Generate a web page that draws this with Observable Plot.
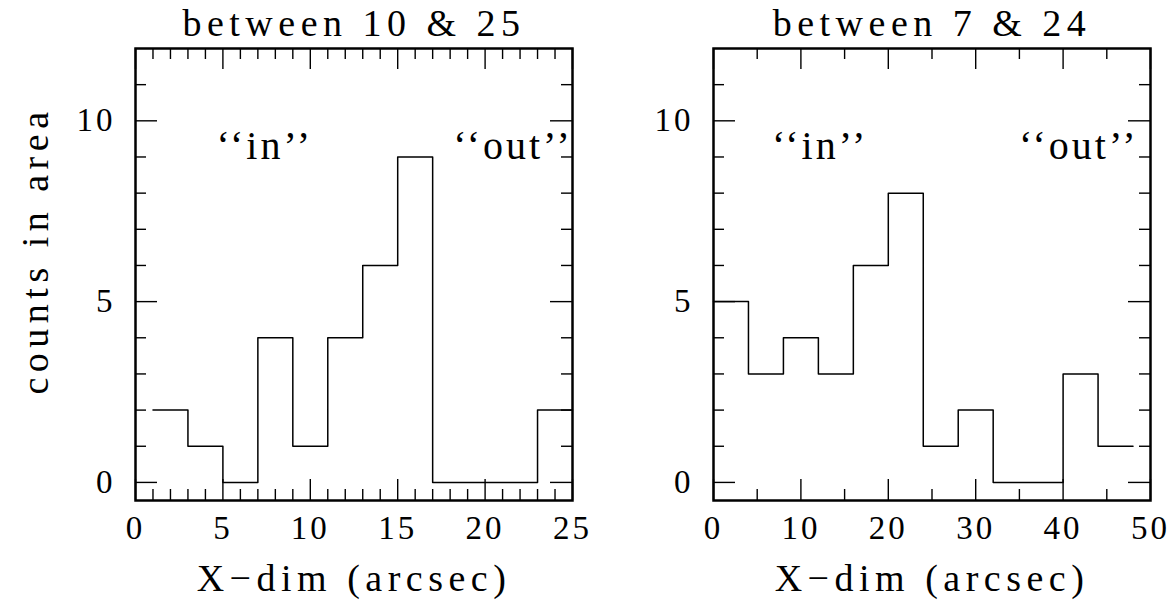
<!DOCTYPE html>
<html>
<head>
<meta charset="utf-8">
<script src="https://cdn.jsdelivr.net/npm/d3@7"></script>
<script src="https://cdn.jsdelivr.net/npm/@observablehq/plot@0.6"></script>
<style>
  html, body { margin: 0; padding: 0; background: #fff; }
  #wrap { position: relative; width: 1173px; height: 604px; overflow: hidden; }
  #wrap svg { position: absolute; top: 0; background: transparent; }
</style>
</head>
<body>
<div id="wrap"></div>
<script>
// ---- data ----
const leftTitle = "between 10 & 25";
const rightTitle = "between 7 & 24";
const xLabel = "X\u2212dim (arcsec)";
const yLabel = "counts in area";

// bin edges (start of each bin + final end) and counts
const leftEdges  = [1, 3, 5, 7, 9, 11, 13, 15, 17, 19, 21, 23, 25];
const leftCounts = [2, 1, 0, 4, 1, 4, 6, 9, 0, 0, 0, 2];
const rightEdges  = [0, 4, 8, 12, 16, 20, 24, 28, 32, 36, 40, 44, 48];
const rightCounts = [5, 3, 4, 3, 6, 8, 1, 2, 0, 0, 3, 1];

const leftXMajor = [0, 5, 10, 15, 20, 25];
const leftXMinor = [1, 2, 3, 4, 6, 7, 8, 9, 11, 12, 13, 14, 16, 17, 18, 19, 21, 22, 23, 24];
const rightXMajor = [0, 10, 20, 30, 40, 50];
const rightXMinor = [5, 15, 25, 35, 45];
const yMajor = [0, 5, 10];
const yMinor = [1, 2, 3, 4, 6, 7, 8, 9, 11];

const leftNotes  = [{x: 7.4, y: 9.3, t: "\u2018\u2018in\u2019\u2019"}, {x: 21.6, y: 9.3, t: "\u2018\u2018out\u2019\u2019"}];
const rightNotes = [{x: 12.2, y: 9.3, t: "\u2018\u2018in\u2019\u2019"}, {x: 41.8, y: 9.3, t: "\u2018\u2018out\u2019\u2019"}];

// ---- drawing ----
const SERIF = "'Liberation Serif', 'DejaVu Serif', serif";
const FW = 437, FH = 452, MT = 48, MB = 104;
const LBL = 38, TCK = 33, NOTE = 40;

function panel({edges, counts, xDomain, xMajor, xMinor, title, notes, showY, width, marginLeft, marginRight}) {
  const pts = edges.map((e, i) => ({x: e, y: counts[Math.min(i, counts.length - 1)]}));
  const txt = {fontFamily: SERIF, fill: "black", lineAnchor: "middle"};
  const marks = [
    Plot.line(pts, {x: "x", y: "y", curve: "step-after", stroke: "black", strokeWidth: 1.5}),
    // bottom / top ticks
    Plot.tickX(xMajor, {x: d => d, insetTop: FH - 21, stroke: "black", strokeWidth: 1.4}),
    Plot.tickX(xMinor, {x: d => d, insetTop: FH - 11, stroke: "black", strokeWidth: 1.4}),
    Plot.tickX(xMajor, {x: d => d, insetBottom: FH - 21, stroke: "black", strokeWidth: 1.4}),
    Plot.tickX(xMinor, {x: d => d, insetBottom: FH - 11, stroke: "black", strokeWidth: 1.4}),
    // left / right ticks
    Plot.tickY(yMajor, {y: d => d, insetRight: FW - 22, stroke: "black", strokeWidth: 1.4}),
    Plot.tickY(yMinor, {y: d => d, insetRight: FW - 11, stroke: "black", strokeWidth: 1.4}),
    Plot.tickY(yMajor, {y: d => d, insetLeft: FW - 22, stroke: "black", strokeWidth: 1.4}),
    Plot.tickY(yMinor, {y: d => d, insetLeft: FW - 11, stroke: "black", strokeWidth: 1.4}),
    Plot.frame({stroke: "black", strokeWidth: 2.5}),
    // tick labels
    Plot.text(xMajor, {...txt, x: d => d, text: d => String(d), frameAnchor: "bottom", dy: 28, fontSize: TCK}),
    Plot.text(yMajor, {...txt, y: d => d, text: d => String(d), frameAnchor: "left", dx: -20, textAnchor: "end", fontSize: TCK}),
    // title and x label
    Plot.text([title], {...txt, text: d => d, frameAnchor: "top", dy: -25, fontSize: LBL}),
    Plot.text([xLabel], {...txt, text: d => d, frameAnchor: "bottom", dy: 78, fontSize: LBL}),
    // annotations
    Plot.text(notes, {...txt, x: "x", y: "y", text: "t", fontSize: NOTE})
  ];
  if (showY) {
    marks.push(Plot.text([yLabel], {...txt, text: d => d, frameAnchor: "left", textAnchor: "middle",
      dx: -100, dy: -24, rotate: -90, fontSize: LBL}));
  }
  const svg = Plot.plot({
    width, height: 604, marginTop: MT, marginBottom: MB, marginLeft, marginRight,
    x: {domain: xDomain, axis: null},
    y: {domain: [-0.5, 12], axis: null},
    style: {background: "transparent", overflow: "visible"},
    marks
  });
  // wide, airy letter spacing like the original plotting fonts
  d3.select(svg).selectAll("g[font-size]").each(function () {
    const fs = +this.getAttribute("font-size");
    const ls = fs === LBL ? 5.5 : fs === TCK ? 3 : 3;
    this.setAttribute("letter-spacing", ls);
  });
  return svg;
}

const wrap = document.getElementById("wrap");
const left = panel({edges: leftEdges, counts: leftCounts, xDomain: [0, 25], xMajor: leftXMajor, xMinor: leftXMinor,
  title: leftTitle, notes: leftNotes, showY: true, width: 587, marginLeft: 135, marginRight: 15});
left.style.left = "0px";
const right = panel({edges: rightEdges, counts: rightCounts, xDomain: [0, 50], xMajor: rightXMajor, xMinor: rightXMinor,
  title: rightTitle, notes: rightNotes, showY: false, width: 586, marginLeft: 126, marginRight: 23});
right.style.left = "587px";
wrap.appendChild(left);
wrap.appendChild(right);
</script>
</body>
</html>
